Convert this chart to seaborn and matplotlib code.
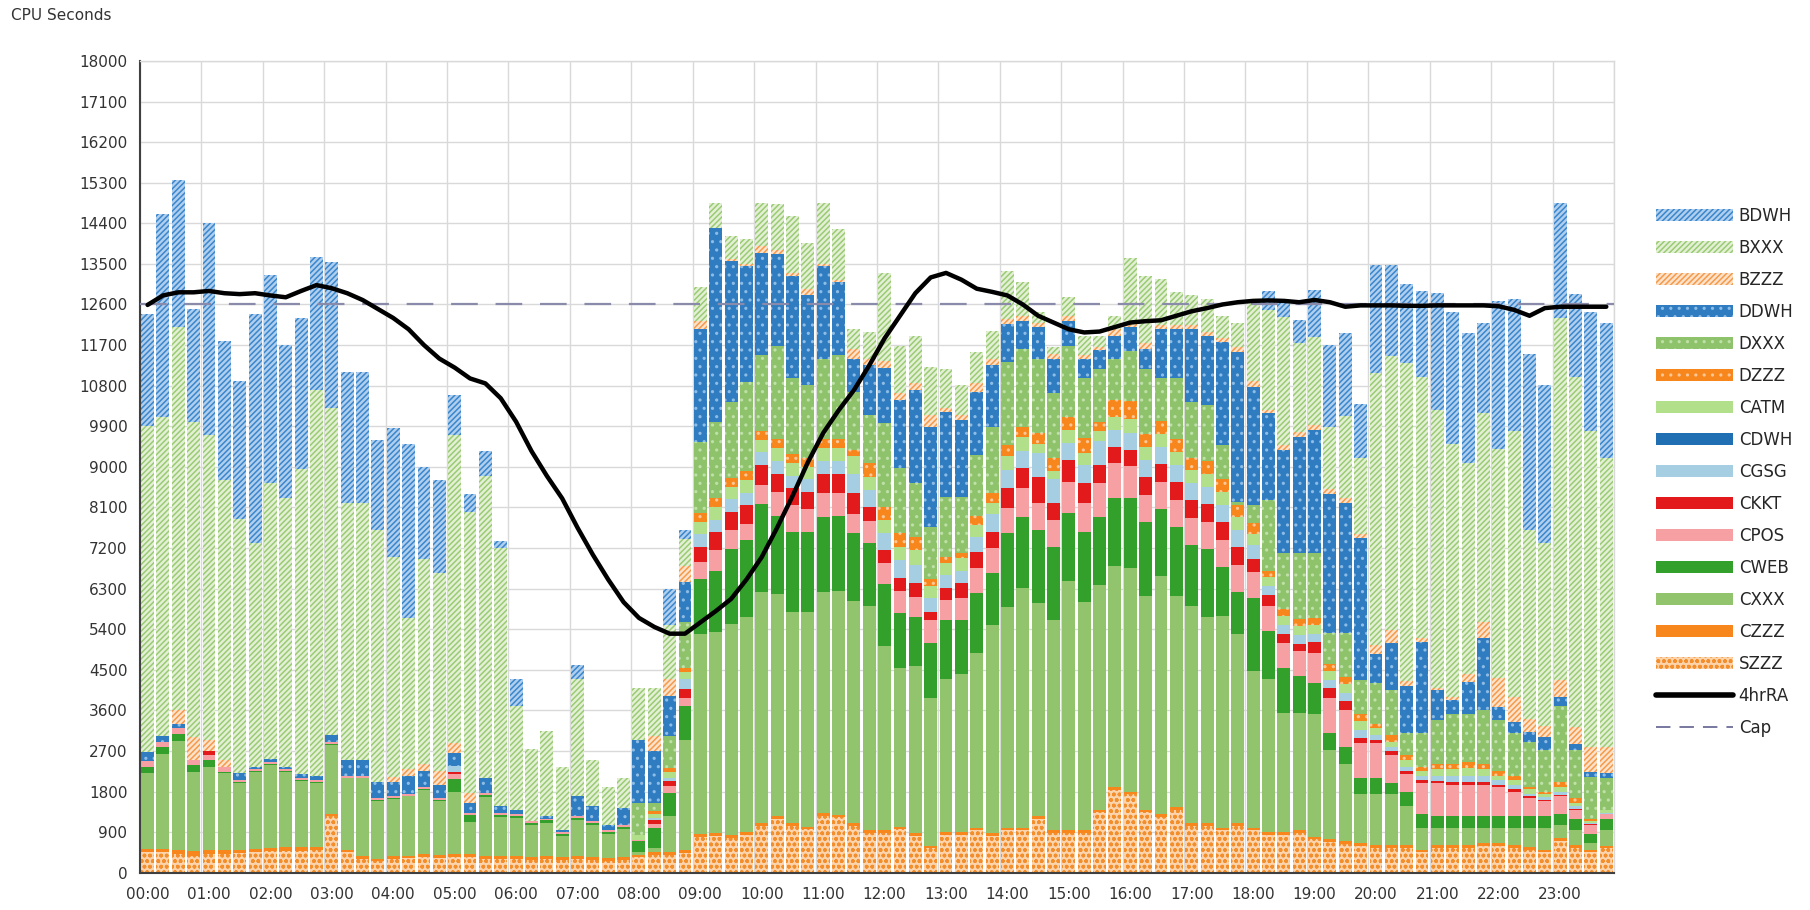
import numpy as np
import matplotlib
matplotlib.use("Agg")
import matplotlib.pyplot as plt
import seaborn as sns
from matplotlib.patches import Patch
from matplotlib.lines import Line2D

sns.set_theme(style="white")
plt.rcParams['font.family'] = ['DejaVu Sans']
plt.rcParams['hatch.linewidth'] = 1.1

hour_labels = ["00:00", "01:00", "02:00", "03:00", "04:00", "05:00", "06:00", "07:00",
               "08:00", "09:00", "10:00", "11:00", "12:00", "13:00", "14:00", "15:00",
               "16:00", "17:00", "18:00", "19:00", "20:00", "21:00", "22:00", "23:00"]

# stacked series, bottom -> top (15-minute intervals, 96 bars)
SZZZ = [450,450,420,380,420,420,430,450,470,480,480,500,
        1250,450,300,250,300,320,350,330,350,350,300,300,
        300,280,300,280,300,280,260,280,350,400,400,440,
        790,810,780,840,1040,1190,1040,960,1260,1230,1040,890,
        890,960,810,540,840,840,940,810,940,940,1190,890,
        890,890,1340,1840,1740,1340,1240,1390,1040,1040,940,1040,
        940,840,840,890,740,690,640,590,550,550,550,450,
        550,550,550,600,600,550,500,450,700,550,450,550]
CZZZ = [80,80,80,100,80,80,80,80,80,80,80,80,
        60,60,60,60,60,60,60,60,60,60,60,60,
        60,60,60,60,60,60,60,60,50,50,50,60,
        60,60,60,60,60,60,60,60,60,60,60,60,
        60,60,60,60,60,60,60,60,60,60,60,60,
        60,60,60,60,60,60,60,60,60,60,60,60,
        60,60,60,60,60,60,60,60,60,60,60,60,
        60,60,60,60,60,60,60,60,60,60,50,50]
CXXX = [1670,2100,2430,1750,1850,1710,1480,1710,1840,1680,1480,1410,
        1530,1580,1730,1280,1280,1310,1430,1200,1370,720,1320,870,
        850,720,750,470,800,710,540,630,50,100,800,2450,
        4440,4460,4670,4760,5120,4930,4670,4750,4900,4960,4930,4970,
        4080,3530,3720,3280,3390,3500,3880,4630,4900,5310,4730,4650,
        5510,5060,4970,4890,4960,4740,5290,4690,4820,4560,4700,4190,
        3470,3390,2650,2600,2730,1970,1720,1100,1140,1140,870,490,
        390,390,390,340,340,390,440,490,290,340,150,350]
CWEB = [150,150,150,150,150,20,20,20,20,20,20,20,
        20,20,20,20,20,20,20,20,300,150,50,50,
        50,50,50,50,50,50,50,50,250,450,520,750,
        1220,1370,1670,1710,1960,1740,1780,1780,1670,1670,1500,1380,
        1370,1200,1090,1220,1310,1210,1320,1140,1630,1580,1620,1630,
        1510,1550,1520,1510,1540,1640,1480,1530,1340,1520,1080,930,
        1630,1080,1000,820,670,380,370,340,340,230,300,300,
        250,250,250,250,250,250,250,250,250,250,200,250]
CPOS = [120,120,120,120,120,120,40,40,40,40,40,40,
        40,40,40,40,40,40,40,40,100,40,40,40,
        40,40,40,40,40,40,40,40,30,80,150,180,
        380,450,410,370,410,520,600,520,520,490,430,490,
        460,490,440,500,450,480,550,550,550,630,590,590,
        700,630,750,780,710,600,600,600,600,600,600,600,
        560,550,550,550,670,780,820,780,780,630,400,680,
        730,700,700,700,650,550,400,350,400,200,200,100]
CKKT = [0,0,0,0,80,0,0,0,0,0,0,0,
        0,0,0,0,0,0,0,0,60,0,0,0,
        0,0,0,0,0,0,0,0,0,80,110,190,
        330,400,410,410,450,410,370,370,440,440,450,330,
        300,290,300,190,260,330,370,370,440,450,590,370,
        490,450,400,370,370,400,400,400,400,400,400,400,
        300,230,190,150,250,220,190,110,80,80,70,70,
        60,50,50,50,50,50,50,20,30,20,20,10]
CGSG = [0,0,0,0,0,0,0,0,0,0,0,0,
        0,0,0,0,0,0,0,0,120,0,0,0,
        0,0,0,0,0,0,0,0,0,50,80,220,
        280,280,280,280,280,280,280,280,280,280,440,370,
        370,410,400,310,290,280,330,400,410,370,520,530,
        370,410,530,370,380,380,380,380,380,380,380,380,
        300,200,200,200,180,180,180,180,100,90,100,100,
        110,150,150,150,100,100,50,60,70,60,30,20]
CDWH = [0,0,0,0,0,0,0,0,0,0,0,0,
        0,0,0,0,0,0,0,0,0,0,0,0,
        0,0,0,0,0,0,0,0,0,0,0,0,
        0,0,0,0,0,0,0,0,0,0,0,0,
        0,0,0,0,0,0,0,0,0,0,0,0,
        0,0,0,0,0,0,0,0,0,0,0,0,
        0,0,0,0,0,0,0,0,0,0,0,0,
        0,0,0,0,0,0,0,0,0,0,0,0]
CATM = [0,0,0,0,0,0,0,0,0,0,0,0,
        0,0,0,0,0,0,0,0,0,0,0,0,
        0,0,0,0,0,0,0,0,100,100,120,160,
        280,280,280,280,280,280,280,280,280,280,380,290,
        290,290,330,250,260,270,250,230,300,330,200,180,
        290,250,230,280,300,280,280,280,280,280,280,280,
        250,200,200,200,200,200,200,200,150,120,150,100,
        150,150,170,150,100,100,100,70,100,70,50,50]
DZZZ = [0,0,0,0,0,0,0,0,0,0,0,0,
        0,0,0,0,0,0,0,0,0,0,0,0,
        0,0,0,0,0,0,0,0,0,50,100,100,
        200,200,200,200,200,200,200,200,200,200,150,300,
        300,300,300,170,150,110,200,220,260,220,250,290,
        290,340,200,380,400,280,280,280,280,280,280,280,
        250,150,150,150,150,150,150,150,100,150,100,100,
        100,120,130,120,100,100,50,50,100,100,50,20]
DXXX = [0,0,0,0,0,0,0,0,0,0,0,0,
        0,0,0,0,0,0,0,0,0,0,0,0,
        0,0,0,0,0,0,0,0,710,180,700,1000,
        1580,1690,1680,1970,1670,2080,1680,1610,1790,1860,1280,1070,
        1850,1440,1190,1150,1330,1260,1360,1480,1840,1730,1650,1440,
        1580,1320,1180,920,1100,1460,950,1350,1240,1250,770,60,
        390,1570,1250,1470,1440,680,980,760,900,1000,490,740,
        980,1110,1080,1190,1130,940,1000,920,1700,1070,930,690]
DDWH = [200,130,100,0,0,0,150,50,80,50,80,100,
        150,350,350,350,300,400,350,300,300,220,330,150,
        100,0,50,50,450,330,100,370,1400,1160,890,890,
        2500,4300,3130,2580,2280,2030,2280,1990,2060,1620,740,1100,
        1230,1510,2060,2220,1880,1700,1410,1360,840,620,700,770,
        550,440,400,500,550,440,1100,1100,1620,1540,2280,3330,
        2620,1920,2290,2580,2730,3090,2890,3150,660,1040,1040,2030,
        670,300,700,1590,300,260,230,290,200,140,110,110]
BZZZ = [0,0,300,500,250,150,0,0,0,0,0,0,
        0,0,0,0,120,150,150,300,220,230,0,0,
        0,0,0,0,0,0,0,0,0,330,370,370,
        180,0,30,40,150,80,60,140,40,60,220,150,
        150,150,150,260,80,110,180,150,110,110,100,100,
        110,70,70,150,100,130,90,90,90,90,80,100,
        130,70,100,100,100,100,100,80,190,300,120,80,
        50,70,170,370,630,550,270,240,370,380,550,590]
BXXX = [7230,7070,8500,7000,6750,6200,5650,4950,6120,5950,6770,8550,
        7250,5700,5700,5600,4880,3350,4550,4400,6820,6230,6700,5730,
        2300,1600,1900,1400,2600,1030,850,670,1160,1070,1210,590,
        740,560,520,550,960,1020,1260,1030,1360,1120,440,590,
        1950,1060,1050,1060,880,660,700,620,1070,740,230,160,
        410,440,260,300,1410,1490,1010,720,650,720,500,550,
        1750,2220,2850,1970,1970,1390,1820,1700,6030,6060,7050,5800,
        6160,5600,4680,4630,5090,5900,4200,4050,8030,7760,7010,6410]
BDWH = [2500,4500,3250,2500,4700,3100,3050,5100,4600,3400,3350,2950,
        3250,2900,2900,2000,2850,3850,2050,2050,900,400,550,150,
        600,0,0,0,300,0,0,0,0,0,800,200,
        0,0,0,0,0,0,0,0,0,0,0,0,
        0,0,0,0,0,0,0,0,0,0,0,0,
        0,0,0,0,0,0,0,0,0,0,0,0,
        0,410,370,520,1040,1820,1840,1200,2400,2030,1750,1900,
        2590,2930,2880,1980,3280,2920,3910,3510,2560,1830,2630,3000]

RA_4HR = [12590,12800,12870,12870,12900,12850,12830,12850,12800,12760,12900,13030,
          12960,12850,12700,12500,12300,12050,11700,11400,11200,10960,10850,10520,
          10000,9350,8800,8300,7650,7050,6500,6000,5650,5450,5300,5300,
          5550,5800,6070,6500,7000,7650,8350,9100,9750,10250,10700,11250,
          11850,12350,12850,13200,13300,13150,12950,12880,12800,12600,12350,12200,
          12050,11980,12000,12100,12200,12230,12250,12350,12450,12520,12600,12650,
          12680,12690,12680,12650,12700,12650,12550,12580,12580,12580,12570,12570,
          12580,12580,12580,12580,12560,12480,12350,12520,12550,12550,12550,12550]
CAP = 12600

# (name, values, face colour, hatch, hatch colour)
series = [
    ("SZZZ", SZZZ, "#fcd3aa", "ooo", "#f28e2b"),
    ("CZZZ", CZZZ, "#f7861c", None, "#f7861c"),
    ("CXXX", CXXX, "#92c46e", None, "#92c46e"),
    ("CWEB", CWEB, "#33a02c", None, "#33a02c"),
    ("CPOS", CPOS, "#f6a0a3", None, "#f6a0a3"),
    ("CKKT", CKKT, "#e31a1c", None, "#e31a1c"),
    ("CGSG", CGSG, "#a6cee3", None, "#a6cee3"),
    ("CDWH", CDWH, "#1f6fb2", None, "#1f6fb2"),
    ("CATM", CATM, "#b2df8a", None, "#b2df8a"),
    ("DZZZ", DZZZ, "#f7861c", "..", "#fbc797"),
    ("DXXX", DXXX, "#8ec36b", "..", "#bfe0a8"),
    ("DDWH", DDWH, "#2f7cc1", "..", "#8dbde6"),
    ("BZZZ", BZZZ, "#fde3cc", "//////", "#f59a4a"),
    ("BXXX", BXXX, "#e4f0d6", "//////", "#9acb73"),
    ("BDWH", BDWH, "#b0cfee", "//////", "#3a86cc"),
]

n = len(SZZZ)
for name, vals, *_ in series:
    assert len(vals) == n, name
assert len(RA_4HR) == n
x = np.arange(n)

fig = plt.figure(figsize=(18.1, 9.1), dpi=100)
ax = fig.add_axes([0.0773, 0.041, 0.8144, 0.892])

bottom = np.zeros(n)
for name, vals, face, hatch, hcol in series:
    v = np.asarray(vals, dtype=float)
    ax.bar(x, v, bottom=bottom, width=0.84, color=face, edgecolor=hcol,
           hatch=hatch, linewidth=0, zorder=2)
    bottom += v

ax.axhline(CAP, color="#8a8aaa", lw=1.6, dashes=(12, 8), zorder=4)
sns.lineplot(x=x, y=RA_4HR, color="black", lw=3.2, ax=ax, zorder=5)

ax.set_xlim(-0.5, n - 0.5)
ax.set_ylim(0, 18000)
ax.set_yticks(np.arange(0, 18001, 900))
ax.set_xticks(np.arange(-0.5, n, 4))
ax.set_xticklabels([])
ax.set_xticks(np.arange(0, n, 4), minor=True)
ax.set_xticklabels(hour_labels, minor=True)
ax.tick_params(axis="x", which="major", length=5, width=1.2, color="#404040", direction="out")
ax.tick_params(axis="x", which="minor", length=0, pad=10, labelsize=11, labelcolor="#333333")
ax.tick_params(axis="y", length=5, width=1.2, color="#404040", direction="out",
               labelsize=11, labelcolor="#333333", pad=4)
ax.set_xlabel("")
ax.set_ylabel("")

ax.set_axisbelow(True)
ax.grid(True, which="major", axis="both", color="#d9d9d9", lw=1)
for s in ["top", "right"]:
    ax.spines[s].set_color("#d9d9d9")
    ax.spines[s].set_linewidth(1)
for s in ["left", "bottom"]:
    ax.spines[s].set_color("#404040")
    ax.spines[s].set_linewidth(1.5)

fig.text(0.006, 0.983, "CPU Seconds", fontsize=11, color="#333333", ha="left", va="center")

handles = []
labels = []
for name, vals, face, hatch, hcol in reversed(series):
    handles.append(Patch(facecolor=face, edgecolor=hcol, hatch=hatch, lw=0))
    labels.append(name)
handles.append(Line2D([0], [0], color="black", lw=4))
labels.append("4hrRA")
handles.append(Line2D([0], [0], color="#6d6d99", lw=1.3, dashes=(8, 5)))
labels.append("Cap")

fig.legend(handles, labels, loc="upper left", bbox_to_anchor=(0.915, 0.773),
           frameon=False, fontsize=12, handlelength=4.6, handleheight=0.75,
           labelspacing=0.84, handletextpad=0.35, borderpad=0, borderaxespad=0)

fig.savefig("out.png", dpi=100)
